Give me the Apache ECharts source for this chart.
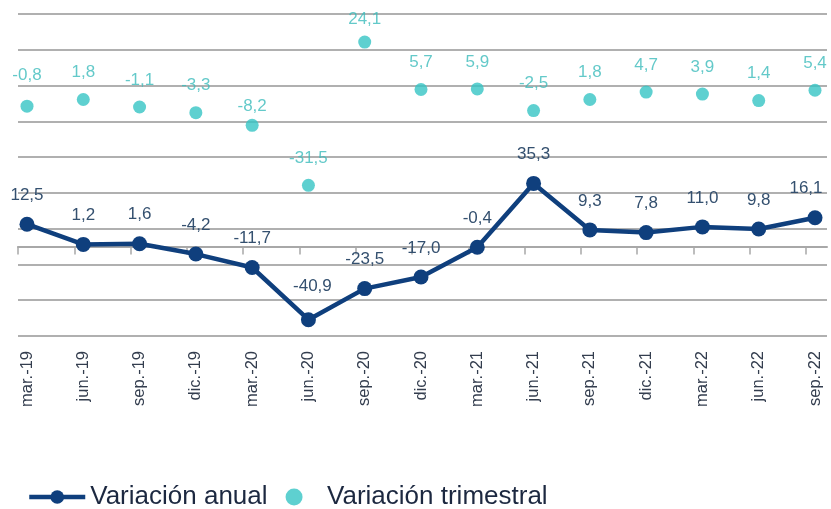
<!DOCTYPE html>
<html>
<head>
    <meta charset="utf-8" />
    <script src="https://cdn.jsdelivr.net/npm/echarts@6/dist/echarts.min.js"></script>
    <style>
        html, body { margin: 0; padding: 0; background: #fff; }
        #chart { width: 831px; height: 509px; }
    </style>
</head>
<body>
    <div id="chart"></div>
<script type="text/javascript">
    // datos
    var categorias = ['mar.-19', 'jun.-19', 'sep.-19', 'dic.-19', 'mar.-20', 'jun.-20', 'sep.-20', 'dic.-20',
        'mar.-21', 'jun.-21', 'sep.-21', 'dic.-21', 'mar.-22', 'jun.-22', 'sep.-22'];
    var variacionAnual = [12.5, 1.2, 1.6, -4.2, -11.7, -40.9, -23.5, -17.0, -0.4, 35.3, 9.3, 7.8, 11.0, 9.8, 16.1];
    var variacionTrimestral = [-0.8, 1.8, -1.1, -3.3, -8.2, -31.5, 24.1, 5.7, 5.9, -2.5, 1.8, 4.7, 3.9, 1.4, 5.4];

    var AZUL = '#0f3f7d';
    var TURQUESA = '#36c4c4';
    var FUENTE = '"Liberation Sans", Arial, sans-serif';

    function fmt(v) {
        return v.toFixed(1).replace('.', ',');
    }

    var datosAnual = variacionAnual.map(function (v, i) {
        var item = { value: v };
        if (i === 5) item.label = { offset: [4, -4] };
        if (i === 14) item.label = { offset: [-9, 0] };
        return item;
    });
    var datosTrim = variacionTrimestral.map(function (v, i) {
        var item = { value: v };
        if (i === 0) item.label = { offset: [0, -4] };
        if (i === 4) item.label = { offset: [0, 8] };
        if (i === 6) item.label = { offset: [0, 4] };
        return item;
    });

    var chart = echarts.init(document.getElementById('chart'), null, { renderer: 'canvas' });
    var option = {
        animation: false,
        backgroundColor: '#ffffff',
        textStyle: { fontFamily: FUENTE },
        grid: [
            { left: 18, right: 4, top: 14, bottom: 173 },
            { left: 27, right: 16, top: 14, bottom: 173 }
        ],
        legend: {
            left: 22,
            top: 479,
            itemWidth: 56,
            itemHeight: 17,
            itemGap: 18,
            lineStyle: { width: 4.5 },
            textStyle: { fontFamily: FUENTE, fontSize: 26, color: '#1c2840' },
            data: ['Variación anual', 'Variación trimestral']
        },
        xAxis: [
            {
                // linea del eje en cero con marcas
                gridIndex: 0,
                type: 'value',
                min: 0,
                max: 809 / (788 / 14),
                axisLine: { show: true, onZero: true, onZeroAxisIndex: 0, lineStyle: { color: '#a8a8a8', width: 2 } },
                axisTick: {
                    show: true, length: 8, lineStyle: { color: '#a8a8a8', width: 1.5 },
                    customValues: categorias.map(function (c, i) { return i; })
                },
                axisLabel: { show: false },
                splitLine: { show: false }
            },
            {
                gridIndex: 1,
                type: 'category',
                boundaryGap: false,
                data: categorias,
                axisLine: { show: false, onZero: false },
                axisTick: { show: false },
                axisLabel: {
                    rotate: 90,
                    margin: 15,
                    fontSize: 16.5,
                    color: '#333d4e',
                    fontFamily: FUENTE
                },
                splitLine: { show: false }
            }
        ],
        yAxis: [
            {
                gridIndex: 0, type: 'value', min: -50, max: 130,
                axisLine: { show: false }, axisTick: { show: false }, axisLabel: { show: false }, splitLine: { show: false }
            },
            {
                // lineas de cuadricula
                gridIndex: 0, type: 'value', min: 0, max: 180, interval: 20,
                axisLine: { show: false }, axisTick: { show: false }, axisLabel: { show: false },
                splitLine: { show: true, lineStyle: { color: '#b0b0b0', width: 2 } }
            },
            {
                gridIndex: 1, type: 'value', min: -50, max: 130,
                axisLine: { show: false }, axisTick: { show: false }, axisLabel: { show: false }, splitLine: { show: false }
            },
            {
                gridIndex: 1, type: 'value', min: -90, max: 35,
                axisLine: { show: false }, axisTick: { show: false }, axisLabel: { show: false }, splitLine: { show: false }
            }
        ],
        series: [
            {
                name: 'Variación anual',
                type: 'line',
                xAxisIndex: 1,
                yAxisIndex: 2,
                data: datosAnual,
                symbol: 'circle',
                symbolSize: 15,
                color: AZUL,
                lineStyle: { color: AZUL, width: 4.5 },
                itemStyle: { color: AZUL },
                label: {
                    show: true,
                    position: 'top',
                    distance: 13,
                    fontSize: 17,
                    color: '#34506f',
                    fontFamily: FUENTE,
                    formatter: function (p) { return fmt(p.value); }
                },
                z: 3
            },
            {
                name: 'Variación trimestral',
                type: 'scatter',
                xAxisIndex: 1,
                yAxisIndex: 3,
                data: datosTrim,
                symbol: 'circle',
                symbolSize: 13,
                color: TURQUESA,
                itemStyle: { color: TURQUESA },
                label: {
                    show: true,
                    position: 'top',
                    distance: 12,
                    fontSize: 17,
                    color: '#3cbcbc',
                    fontFamily: FUENTE,
                    formatter: function (p) { return fmt(p.value); }
                },
                z: 4
            }
        ]
    };
    chart.setOption(option);
</script>
</body>
</html>
